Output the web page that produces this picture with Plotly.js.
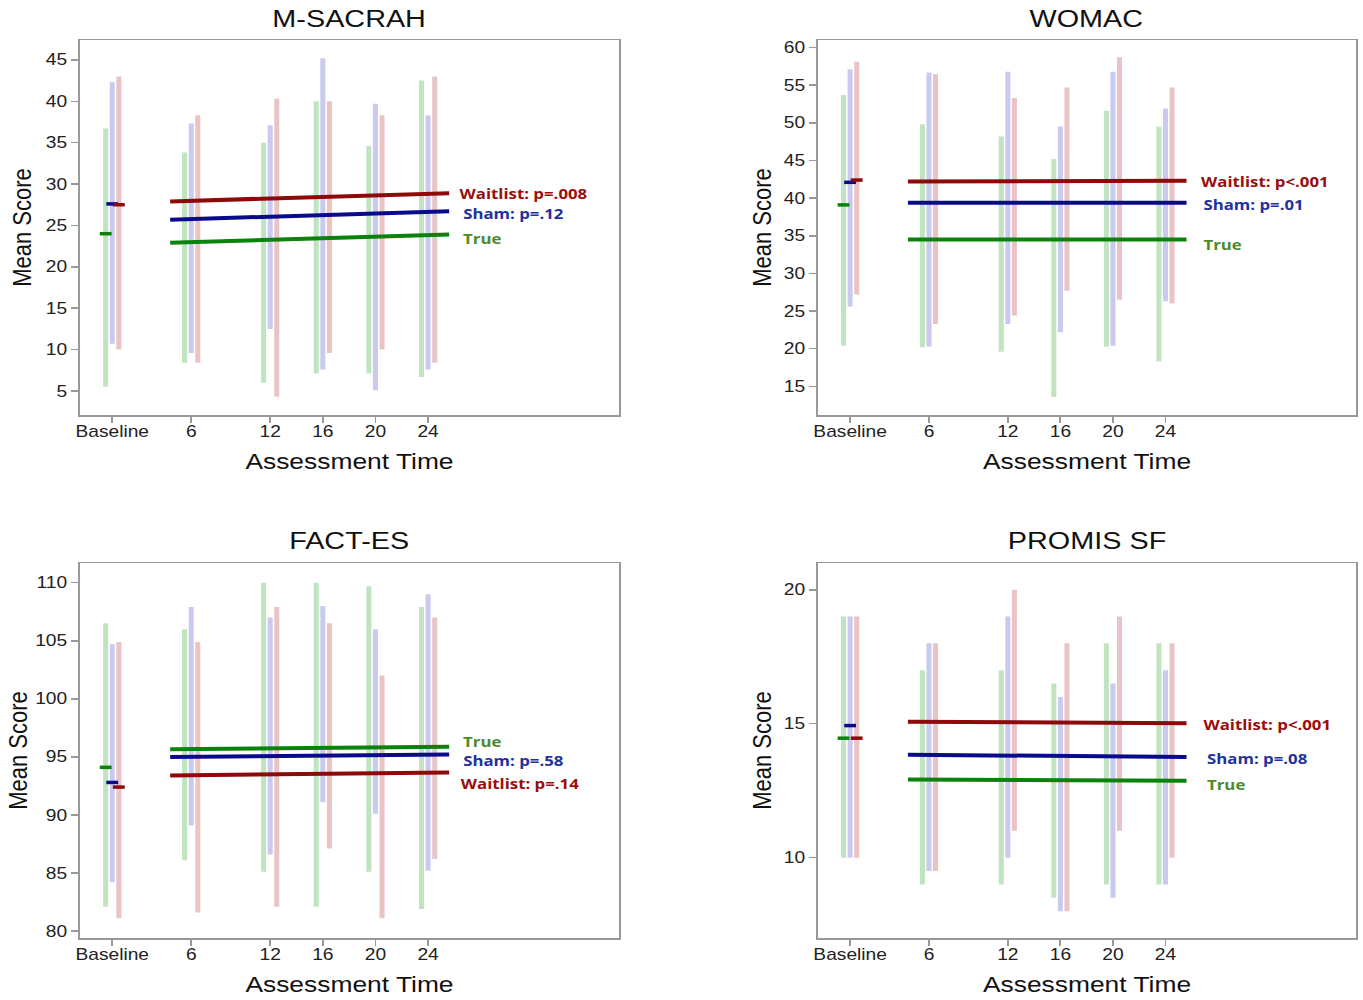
<!DOCTYPE html>
<html><head><meta charset="utf-8">
<script src="https://cdn.plot.ly/plotly-3.0.1.min.js"></script>
<style>
html,body{margin:0;padding:0;background:#fff;overflow:hidden;}
/* the reference figure is horizontally stretched (~1.2x); reproduce that */
#chart{width:1136px;height:1000px;transform:scaleX(1.19982);transform-origin:0 0;}
</style>
</head><body><div id="chart"></div>
<script>
// ---------- shared ----------
const weeks = [0, 6, 12, 16, 20, 24];
const weekLabels = ['Baseline', '6', '12', '16', '20', '24'];
const groupNames = ['True', 'Sham', 'Waitlist'];
const trendWeeks = [4.4, 25.6];

// ---------- M-SACRAH ----------
const msTrueMin = [5.5, 8.4, 6.0, 7.1, 7.1, 6.7];
const msTrueMax = [36.7, 33.8, 35.0, 40.0, 34.6, 42.5];
const msShamMin = [10.7, 9.6, 12.5, 7.6, 5.1, 7.6];
const msShamMax = [42.3, 37.3, 37.1, 45.2, 39.7, 38.3];
const msWaitMin = [10.0, 8.4, 4.3, 9.6, 10.0, 8.4];
const msWaitMax = [43.0, 38.3, 40.3, 40.0, 38.3, 43.0];
const msBaseMean = [24.0, 27.6, 27.5];
const msTrendStart = [22.9, 25.7, 27.9];
const msTrendEnd = [23.9, 26.7, 28.9];
const msLabelText = ['True', 'Sham: p=.12', 'Waitlist: p=.008'];
const msLabelY = [23.4, 26.4, 28.8];
const msYTicks = [5, 10, 15, 20, 25, 30, 35, 40, 45];

// ---------- WOMAC ----------
const woTrueMin = [20.4, 20.2, 19.6, 13.6, 20.3, 18.3];
const woTrueMax = [53.7, 49.8, 48.2, 45.2, 51.6, 49.5];
const woShamMin = [25.6, 20.3, 23.3, 22.2, 20.4, 26.3];
const woShamMax = [57.1, 56.7, 56.8, 49.5, 56.8, 51.9];
const woWaitMin = [27.2, 23.3, 24.4, 27.7, 26.5, 26.0];
const woWaitMax = [58.1, 56.5, 53.3, 54.7, 58.7, 54.7];
const woBaseMean = [39.1, 42.1, 42.4];
const woTrendStart = [34.5, 39.4, 42.2];
const woTrendEnd = [34.5, 39.4, 42.3];
const woLabelText = ['True', 'Sham: p=.01', 'Waitlist: p<.001'];
const woLabelY = [33.8, 39.2, 42.2];
const woYTicks = [15, 20, 25, 30, 35, 40, 45, 50, 55, 60];

// ---------- FACT-ES ----------
const faTrueMin = [82.1, 86.1, 85.1, 82.1, 85.1, 81.9];
const faTrueMax = [106.5, 106.0, 110.0, 110.0, 109.7, 107.9];
const faShamMin = [84.2, 89.1, 86.6, 91.1, 90.1, 85.2];
const faShamMax = [104.7, 107.9, 107.0, 108.0, 106.0, 109.0];
const faWaitMin = [81.1, 81.6, 82.1, 87.1, 81.1, 86.2];
const faWaitMax = [104.9, 104.9, 107.9, 106.5, 102.0, 107.0];
const faBaseMean = [94.1, 92.8, 92.4];
const faTrendStart = [95.65, 94.98, 93.4];
const faTrendEnd = [95.87, 95.2, 93.65];
const faLabelText = ['True', 'Sham: p=.58', 'Waitlist: p=.14'];
const faLabelY = [96.3, 94.7, 92.7];
const faYTicks = [80, 85, 90, 95, 100, 105, 110];

// ---------- PROMIS SF ----------
const prTrueMin = [10, 9, 9, 8.5, 9, 9];
const prTrueMax = [19, 17, 17, 16.5, 18, 18];
const prShamMin = [10, 9.5, 10, 8, 8.5, 9];
const prShamMax = [19, 18, 19, 16, 16.5, 17];
const prWaitMin = [10, 9.5, 11, 8, 11, 10];
const prWaitMax = [19, 18, 20, 18, 19, 18];
const prBaseMean = [14.46, 14.93, 14.46];
const prTrendStart = [12.92, 13.84, 15.07];
const prTrendEnd = [12.87, 13.76, 15.02];
const prLabelText = ['True', 'Sham: p=.08', 'Waitlist: p<.001'];
const prLabelY = [12.72, 13.69, 14.97];
const prYTicks = [10, 15, 20];

// ---------- styling ----------
const offsets = [-0.5, 0, 0.5];
const barColors = ['rgba(60,170,60,0.32)', 'rgba(90,90,210,0.32)', 'rgba(190,70,70,0.32)'];
const lineColors = ['#0b820b', '#0a0a8c', '#8c0a0a'];
const labelColors = ['#4b8b2b', '#22329c', '#9a0d0d'];

const panels = [
  {title: 'M-SACRAH', mins: [msTrueMin, msShamMin, msWaitMin], maxs: [msTrueMax, msShamMax, msWaitMax],
   base: msBaseMean, ts: msTrendStart, te: msTrendEnd, lt: msLabelText, ly: msLabelY, lx: [26.5, 26.5, 26.2],
   yticks: msYTicks, yrange: [2.1, 47.4], xd: [0.0587, 0.4541], yd: [0.585, 0.96], ystand: 5},
  {title: 'WOMAC', mins: [woTrueMin, woShamMin, woWaitMin], maxs: [woTrueMax, woShamMax, woWaitMax],
   base: woBaseMean, ts: woTrendStart, te: woTrendEnd, lt: woLabelText, ly: woLabelY, lx: [26.7, 26.7, 26.5],
   yticks: woYTicks, yrange: [11.2, 61.0], xd: [0.6001, 0.9949], yd: [0.585, 0.96], ystand: 4},
  {title: 'FACT-ES', mins: [faTrueMin, faShamMin, faWaitMin], maxs: [faTrueMax, faShamMax, faWaitMax],
   base: faBaseMean, ts: faTrendStart, te: faTrendEnd, lt: faLabelText, ly: faLabelY, lx: [26.5, 26.5, 26.3],
   yticks: faYTicks, yrange: [79.4, 111.7], xd: [0.0587, 0.4541], yd: [0.062, 0.437], ystand: 0},
  {title: 'PROMIS SF', mins: [prTrueMin, prShamMin, prWaitMin], maxs: [prTrueMax, prShamMax, prWaitMax],
   base: prBaseMean, ts: prTrendStart, te: prTrendEnd, lt: prLabelText, ly: prLabelY, lx: [27.0, 27.0, 26.7],
   yticks: prYTicks, yrange: [7.0, 21.0], xd: [0.6001, 0.9949], yd: [0.062, 0.437], ystand: 4}
];

const traces = [];
const annotations = [];
const layout = {
  width: 1136, height: 1000, margin: {l: 0, r: 0, t: 0, b: 0},
  paper_bgcolor: '#fff', plot_bgcolor: '#fff', showlegend: false,
  font: {family: 'Liberation Sans, Arial, sans-serif', color: '#222'}
};

panels.forEach((p, k) => {
  const sfx = k === 0 ? '' : String(k + 1);
  const xa = 'x' + sfx, ya = 'y' + sfx;
  // range bars
  for (let g = 0; g < 3; g++) {
    const xs = [], ys = [];
    weeks.forEach((w, i) => {
      xs.push(w + offsets[g], w + offsets[g], null);
      ys.push(p.mins[g][i], p.maxs[g][i], null);
    });
    traces.push({type: 'scatter', mode: 'lines', x: xs, y: ys, xaxis: xa, yaxis: ya,
      line: {color: barColors[g], width: 4.2}, hoverinfo: 'skip', name: groupNames[g]});
  }
  // baseline means
  for (let g = 0; g < 3; g++) {
    traces.push({type: 'scatter', mode: 'lines', xaxis: xa, yaxis: ya,
      x: [weeks[0] + offsets[g] - 0.45, weeks[0] + offsets[g] + 0.45], y: [p.base[g], p.base[g]],
      line: {color: lineColors[g], width: 3.5}, name: groupNames[g] + ' baseline'});
  }
  // trend lines
  for (let g = 0; g < 3; g++) {
    traces.push({type: 'scatter', mode: 'lines', xaxis: xa, yaxis: ya,
      x: trendWeeks, y: [p.ts[g], p.te[g]],
      line: {color: lineColors[g], width: 4}, name: groupNames[g] + ' trend'});
    annotations.push({xref: xa, yref: ya, x: p.lx[g], y: p.ly[g], text: '<b>' + p.lt[g] + '</b>',
      showarrow: false, xanchor: 'left', yanchor: 'middle',
      font: {family: 'Open Sans, Liberation Sans, sans-serif', size: 14, color: labelColors[g]}});
  }
  // subplot title
  annotations.push({xref: 'paper', yref: 'paper', x: (p.xd[0] + p.xd[1]) / 2, y: p.yd[1] + 0.022,
    text: p.title, showarrow: false, xanchor: 'center', yanchor: 'middle',
    font: {size: 24, color: '#111'}});

  layout['xaxis' + sfx] = {domain: p.xd, anchor: ya, range: [-2.45, 38.5],
    tickvals: weeks, ticktext: weekLabels, ticks: 'outside', ticklen: 6, tickcolor: '#999', tickwidth: 1.5,
    ticklabelstandoff: -5,
    showline: true, mirror: true, linecolor: '#999', linewidth: 1.5, showgrid: false, zeroline: false,
    tickfont: {size: 16, color: '#222'},
    title: {text: 'Assessment Time', font: {size: 22, color: '#111'}, standoff: 15}};
  layout['yaxis' + sfx] = {domain: p.yd, anchor: xa, range: p.yrange, tickvals: p.yticks,
    ticks: 'outside', ticklen: 6, tickcolor: '#999', tickwidth: 1.5,
    showline: true, mirror: true, linecolor: '#999', linewidth: 1.5, showgrid: false, zeroline: false,
    tickfont: {size: 16, color: '#222'},
    title: {text: 'Mean Score', font: {size: 22, color: '#111'}, standoff: p.ystand}};
});
layout.annotations = annotations;

Plotly.newPlot('chart', traces, layout, {displayModeBar: false, staticPlot: true});
</script></body></html>
